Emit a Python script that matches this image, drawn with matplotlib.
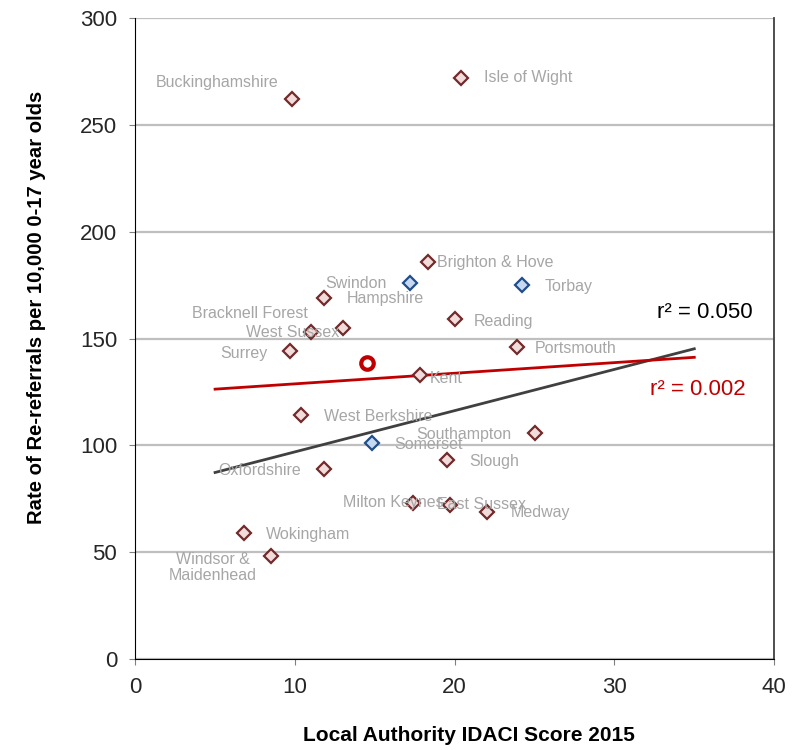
import matplotlib.pyplot as plt

# Data
names = ["Buckinghamshire", "Isle of Wight", "Brighton & Hove", "Hampshire",
         "Bracknell Forest", "West Sussex", "Surrey", "Reading", "Portsmouth",
         "Kent", "West Berkshire", "Southampton", "Slough", "Oxfordshire",
         "Milton Keynes", "East Sussex", "Medway", "Wokingham",
         "Windsor &\nMaidenhead"]
idaci = [9.8, 20.4, 18.3, 11.8, 11.0, 13.0, 9.7, 20.0, 23.9, 17.8, 10.4, 25.0,
         19.5, 11.8, 17.4, 19.7, 22.0, 6.8, 8.5]
rerefs = [262, 272, 186, 169, 153, 155, 144, 159, 146, 133, 114, 106, 93, 89,
          73, 72, 69, 59, 48]

blue_names = ["Swindon", "Torbay", "Somerset"]
blue_idaci = [17.2, 24.2, 14.8]
blue_rerefs = [176, 175, 101]

avg_idaci = [14.5]
avg_rerefs = [138.5]

trend_x = [5, 35]
trend_all_y = [87.3, 145.2]
trend_red_y = [126.3, 141.2]

# label offsets in pixels (dx, dy up) and alignment
offsets = [(-13, 17, "right"), (23, 0, "left"), (9, -1, "left"), (23, -1, "left"),
           (-3, 19, "right"), (-4, -5, "right"), (-23, -2, "right"),
           (19, -2, "left"), (18, -1, "left"), (10, -4, "left"), (23, -1, "left"),
           (-23, -2, "right"), (23, -1, "left"), (-23, -2, "right"),
           (30, 1, "right"), (-13, 1, "left"), (24, -1, "left"), (22, -2, "left"),
           (-58, -11, "center")]
blue_offsets = [(-23, -1, "right"), (23, -1, "left"), (23, -1, "left")]

plt.rcParams["font.family"] = ["Liberation Sans", "DejaVu Sans"]

fig = plt.figure(figsize=(8, 7.5), dpi=100)
ax = fig.add_axes([0.169, 0.1213, 0.7987, 0.8547])

ax.set_xlim(0, 40)
ax.set_ylim(0, 300)
ax.set_xticks(range(0, 41, 10))
ax.set_yticks(range(0, 301, 50))
ax.grid(axis="y", color="#bfbfbf", linewidth=1.6)
ax.set_axisbelow(True)

ax.spines["top"].set_visible(False)
ax.spines["right"].set_color("#404040")
ax.spines["right"].set_linewidth(1.3)
ax.spines["left"].set_color("black")
ax.spines["bottom"].set_color("black")
ax.tick_params(axis="both", direction="out", length=4, color="#808080",
               labelsize=16, labelcolor="#262626", pad=9)

ax.plot(trend_x, trend_all_y, color="#404040", linewidth=2, zorder=2)
ax.plot(trend_x, trend_red_y, color="#c00000", linewidth=2, zorder=2)

ax.plot(idaci, rerefs, linestyle="none", marker="D", markersize=7.2,
        markerfacecolor="#f2dcdb", markeredgecolor="#722a2a",
        markeredgewidth=1.6, zorder=3)
ax.plot(blue_idaci, blue_rerefs, linestyle="none", marker="D", markersize=7.2,
        markerfacecolor="#c6d9f1", markeredgecolor="#1f4e8c",
        markeredgewidth=1.6, zorder=3)
ax.plot(avg_idaci, avg_rerefs, linestyle="none", marker="o", markersize=9,
        markerfacecolor="white", markeredgecolor="#c00000",
        markeredgewidth=3, zorder=3)

for n, x, y, (dx, dy, ha) in zip(names + blue_names, idaci + blue_idaci,
                                  rerefs + blue_rerefs, offsets + blue_offsets):
    ax.annotate(n, (x, y), xytext=(dx, dy), textcoords="offset pixels",
                ha=ha, va="center", fontsize=11.5, color="#a6a6a6",
                linespacing=1.15, zorder=4)

ax.text(0.816, 0.54, "r\u00b2 = 0.050", transform=ax.transAxes, fontsize=16,
        color="black", va="center", ha="left")
ax.text(0.806, 0.42, "r\u00b2 = 0.002", transform=ax.transAxes, fontsize=16,
        color="#c00000", va="center", ha="left")

ax.set_xlabel("Local Authority IDACI Score 2015", fontsize=15, fontweight="bold")
ax.set_ylabel("Rate of Re-referrals per 10,000 0-17 year olds", fontsize=14.6,
              fontweight="bold")
ax.xaxis.set_label_coords(0.522, -0.104)
ax.yaxis.set_label_coords(-0.139, 0.548)

plt.savefig("out.png", dpi=100)
